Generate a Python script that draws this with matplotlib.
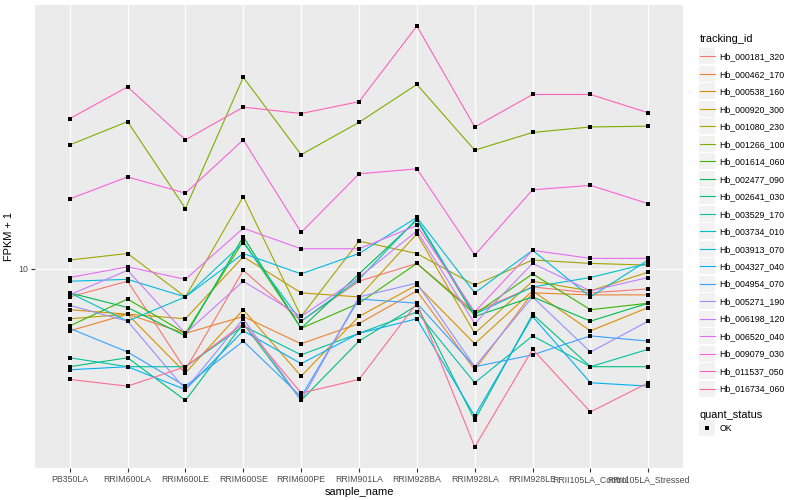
import matplotlib
matplotlib.use("Agg")
import matplotlib.pyplot as plt
from matplotlib.lines import Line2D

plt.rcParams['font.family'] = ['Liberation Sans', 'DejaVu Sans']

samples = ["PB350LA", "RRIM600LA", "RRIM600LE", "RRIM600SE", "RRIM600PE",
           "RRIM901LA", "RRIM928BA", "RRIM928LA", "RRIM928LE",
           "RRII105LA_Control", "RRII105LA_Stressed"]

tracking_ids = ["Hb_000181_320", "Hb_000462_170", "Hb_000538_160", "Hb_000920_300",
                "Hb_001080_230", "Hb_001266_100", "Hb_001614_060", "Hb_002477_090",
                "Hb_002641_030", "Hb_003529_170", "Hb_003734_010", "Hb_003913_070",
                "Hb_004327_040", "Hb_004954_070", "Hb_005271_190", "Hb_006198_120",
                "Hb_006520_040", "Hb_009079_030", "Hb_011537_050", "Hb_016734_060"]

# ggplot default hue palette for 20 levels
colors = ["#F8766D", "#EA8331", "#D89000", "#C09B00", "#A3A500", "#7CAE00",
          "#39B600", "#00BB4E", "#00BF7D", "#00C1A3", "#00BFC4", "#00BAE0",
          "#00B0F6", "#35A2FF", "#9590FF", "#C77CFF", "#E76BF3", "#FA62DB",
          "#FF62BC", "#FF6C91"]

# FPKM + 1, one list per tracking_id (same order as samples)
fpkm = {
    "Hb_000181_320": [8.5, 9.3, 5.6, 9.9, 7.4, 9.3, 10.3, 7.8, 9.0, 8.7, 8.9],
    "Hb_000462_170": [7.0, 7.7, 6.9, 7.6, 6.5, 7.3, 8.8, 5.6, 8.7, 8.6, 8.6],
    "Hb_000538_160": [7.9, 7.7, 5.5, 7.9, 5.4, 7.6, 9.1, 6.5, 8.8, 7.0, 8.0],
    "Hb_000920_300": [7.5, 7.7, 7.5, 10.7, 8.7, 8.5, 12.2, 6.9, 9.3, 8.8, 9.8],
    "Hb_001080_230": [10.5, 10.9, 8.5, 15.1, 7.6, 11.7, 10.9, 9.1, 10.5, 10.3, 10.2],
    "Hb_001266_100": [20.3, 23.2, 14.1, 29.9, 19.2, 23.1, 28.7, 19.7, 21.8, 22.5, 22.6],
    "Hb_001614_060": [7.2, 8.4, 6.9, 11.7, 7.1, 8.2, 10.3, 7.7, 9.7, 7.9, 8.2],
    "Hb_002477_090": [8.7, 8.0, 6.8, 12.0, 7.1, 9.7, 13.2, 7.6, 8.5, 7.4, 8.2],
    "Hb_002641_030": [5.7, 6.0, 4.7, 7.3, 4.7, 6.6, 8.1, 4.2, 7.7, 5.7, 5.7],
    "Hb_003529_170": [6.0, 5.7, 5.7, 7.2, 6.1, 6.9, 7.8, 5.2, 6.8, 5.7, 6.3],
    "Hb_003734_010": [8.7, 7.4, 8.5, 11.6, 7.4, 9.4, 13.3, 7.7, 9.0, 9.5, 10.3],
    "Hb_003913_070": [9.3, 9.4, 8.5, 10.9, 9.7, 10.9, 13.4, 8.7, 11.1, 8.5, 10.5],
    "Hb_004327_040": [5.6, 5.7, 5.0, 7.0, 5.8, 6.9, 7.5, 4.3, 7.6, 5.2, 5.1],
    "Hb_004954_070": [7.1, 6.2, 5.1, 6.6, 4.8, 8.4, 8.2, 5.7, 6.1, 6.8, 6.6],
    "Hb_005271_190": [8.1, 7.4, 5.0, 7.5, 4.7, 8.5, 9.2, 5.7, 8.5, 6.2, 7.4],
    "Hb_006198_120": [8.6, 9.9, 6.9, 9.3, 7.6, 9.5, 12.4, 7.3, 10.3, 8.8, 9.5],
    "Hb_006520_040": [9.5, 10.1, 9.4, 12.6, 11.2, 11.2, 12.8, 7.8, 11.1, 10.6, 10.6],
    "Hb_009079_030": [14.9, 16.9, 15.4, 20.9, 12.3, 17.2, 17.7, 10.8, 15.7, 16.1, 14.5],
    "Hb_011537_050": [23.6, 28.3, 20.9, 25.2, 24.3, 26.0, 40.1, 22.5, 27.1, 27.1, 24.4],
    "Hb_016734_060": [5.3, 5.1, 5.7, 7.3, 4.9, 5.3, 8.2, 3.6, 6.3, 4.4, 5.2],
}

fig = plt.figure(figsize=(8, 5), dpi=100)
ax = fig.add_axes([35 / 800, 1 - 468 / 500, (683 - 35) / 800, (468 - 5) / 500])
ax.set_facecolor("#EBEBEB")
for s in ax.spines.values():
    s.set_visible(False)

# grey square behind each legend key, like ggplot's key background
key_bg = Line2D([], [], ls="none", marker="s", ms=11.5, mew=0, color="#F2F2F2")
handles = []
for tid, col in zip(tracking_ids, colors):
    ax.plot(samples, fpkm[tid], color=col, lw=0.8, zorder=2)
    handles.append((key_bg, Line2D([], [], color=col, lw=0.8)))

for tid in tracking_ids:
    ax.plot(samples, fpkm[tid], ls="none", marker="s", ms=2.8, mew=0,
            color="black", zorder=3)

ax.set_yscale("log")
ax.margins(y=0.05)
ax.set_xlim(-0.6, len(samples) - 0.4)
ax.set_yticks([10])
ax.set_yticklabels(["10"])
ax.yaxis.set_minor_locator(matplotlib.ticker.NullLocator())

ax.grid(True, which="major", color="white", lw=1.0)
ax.set_axisbelow(True)
ax.tick_params(axis="both", length=3, width=0.8, color="#333333",
               labelsize=6.3, labelcolor="#4D4D4D", pad=2)

ax.set_xlabel("sample_name", fontsize=7.9, labelpad=2)
ax.set_ylabel("FPKM + 1", fontsize=7.9, labelpad=3)

leg1 = fig.legend(handles, tracking_ids, loc="upper left",
                  bbox_to_anchor=(692 / 800, 1 - 26 / 500), title="tracking_id",
                  frameon=False, fontsize=6.3, title_fontsize=7.9,
                  handlelength=1.7, handletextpad=0.5, labelspacing=0.97,
                  alignment="left")

ok_handle = (key_bg, Line2D([], [], ls="none", marker="s", ms=2.8, mew=0, color="black"))
leg2 = fig.legend([ok_handle], ["OK"], loc="upper left",
                  bbox_to_anchor=(692 / 800, 1 - 402 / 500), title="quant_status",
                  frameon=False, fontsize=6.3, title_fontsize=7.9,
                  handlelength=1.7, handletextpad=0.5, alignment="left")

fig.savefig("out.png", dpi=100)
